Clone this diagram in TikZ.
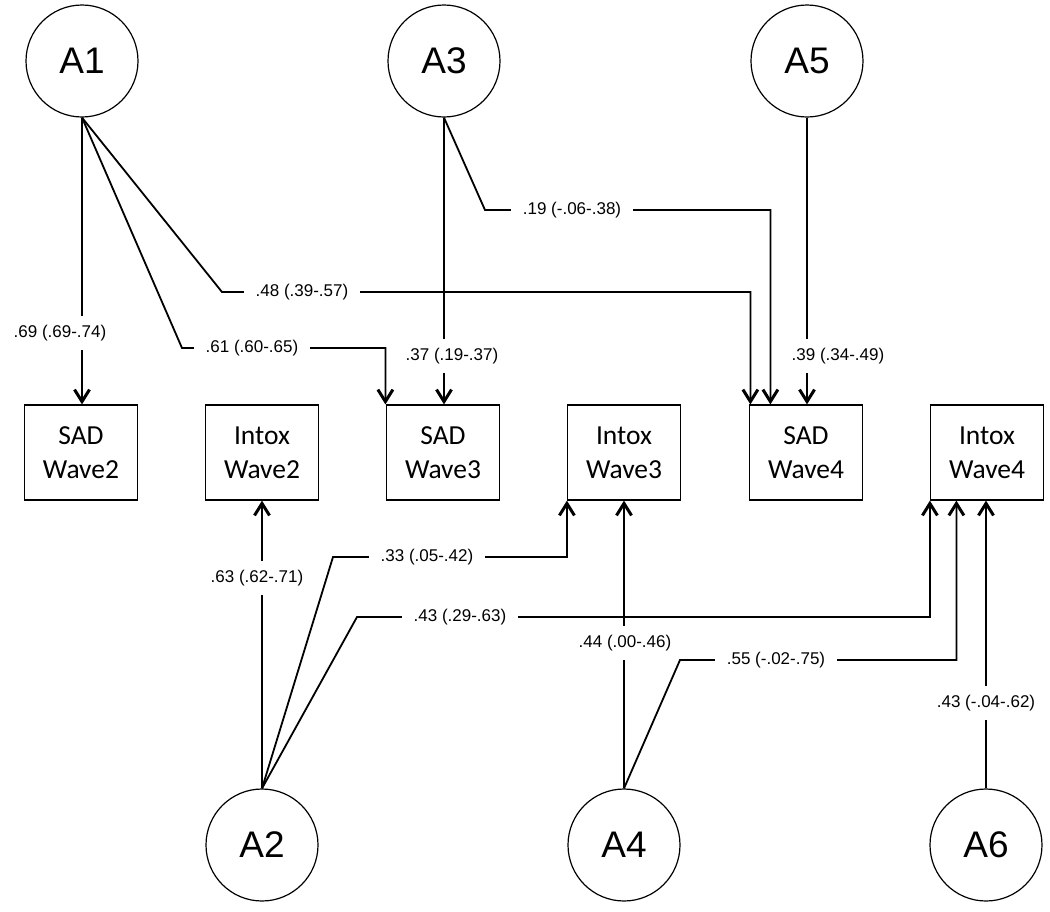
\documentclass[tikz,border=0pt]{standalone}
\usepackage{fontspec}
\setmainfont{Liberation Sans}
\newfontfamily\boxfont{Carlito}
\usetikzlibrary{arrows.meta}
\begin{document}
\begin{tikzpicture}[x=1pt,y=-1pt,
  latent/.style={draw, circle, minimum size=112pt, inner sep=0pt, line width=1.2pt, fill=white, font=\fontsize{37}{40}\selectfont},
  obs/.style={draw, rectangle, minimum width=113pt, minimum height=95pt, inner sep=0pt, line width=1.2pt, align=center, font=\boxfont\fontsize{27.5}{34}\selectfont},
  conn/.style={line width=1.8pt, -{Straight Barb[length=12pt,width=15pt,line width=3pt]}},
  hlab/.style={fill=white, inner xsep=12pt, inner ysep=2pt, font=\fontsize{17}{19}\selectfont},
  vlab/.style={fill=white, inner xsep=2pt, inner ysep=9pt, font=\fontsize{17}{19}\selectfont}
]
\useasboundingbox (0,0) rectangle (1050,911);

% latent variables
\node[latent] (A1) at (82,61) {A1};
\node[latent] (A3) at (444,61) {A3};
\node[latent] (A5) at (807,61) {A5};
\node[latent] (A2) at (262,845) {A2};
\node[latent] (A4) at (624,845) {A4};
\node[latent] (A6) at (986,845) {A6};

% observed variables
\node[obs] (S2) at (81,452.5) {SAD\\Wave2};
\node[obs] (I2) at (262,452.5) {Intox\\Wave2};
\node[obs] (S3) at (443,452.5) {SAD\\Wave3};
\node[obs] (I3) at (624,452.5) {Intox\\Wave3};
\node[obs] (S4) at (806,452.5) {SAD\\Wave4};
\node[obs] (I4) at (987,452.5) {Intox\\Wave4};

% corner points
\coordinate (c61) at (182,348);
\coordinate (c48) at (222,292);
\coordinate (c19) at (485,210);
\coordinate (c33) at (333,557);
\coordinate (c43) at (357,617);
\coordinate (c55) at (680,660);

% connectors
\draw[conn] (A1.south) -- (A1.south |- S2.north);
\draw[conn] (A1.south) -- (c61) -| ([xshift=-0.5pt]S3.north west);
\draw[conn] (A1.south) -- (c48) -| ([xshift=1.5pt]S4.north west);
\draw[conn] (A3.south) -- (A3.south |- S3.north);
\draw[conn] (A3.south) -- (c19) -| ([xshift=21.5pt]S4.north west);
\draw[conn] (A5.south) -- (A5.south |- S4.north);
\draw[conn] (A2.north) -- (A2.north |- I2.south);
\draw[conn] (A2.north) -- (c33) -| (I3.south west);
\draw[conn] (A2.north) -- (c43) -| (I4.south west);
\draw[conn] (A4.north) -- (A4.north |- I3.south);
\draw[conn] (A4.north) -- (c55) -| ([xshift=26.5pt]I4.south west);
\draw[conn] (A6.north) -- (A6.north |- I4.south);

% labels
\node[vlab] (l69) at (60,333) {.69 (.69-.74)};
\node[hlab] (l61) at (252,348) {.61 (.60-.65)};
\node[hlab] (l48) at (302,292) {.48 (.39-.57)};
\node[vlab] (l37) at (452,356) {.37 (.19-.37)};
\node[hlab] (l19) at (572,210) {.19 (-.06-.38)};
\node[vlab] (l39) at (838,356) {.39 (.34-.49)};
\node[vlab] (l63) at (257,578) {.63 (.62-.71)};
\node[hlab] (l33) at (427,557) {.33 (.05-.42)};
\node[hlab] (l43) at (460,617) {.43 (.29-.63)};
\node[vlab] (l44) at (625,643) {.44 (.00-.46)};
\node[hlab] (l55) at (776,660) {.55 (-.02-.75)};
\node[vlab] (l43b) at (986,703) {.43 (-.04-.62)};
\end{tikzpicture}
\end{document}
